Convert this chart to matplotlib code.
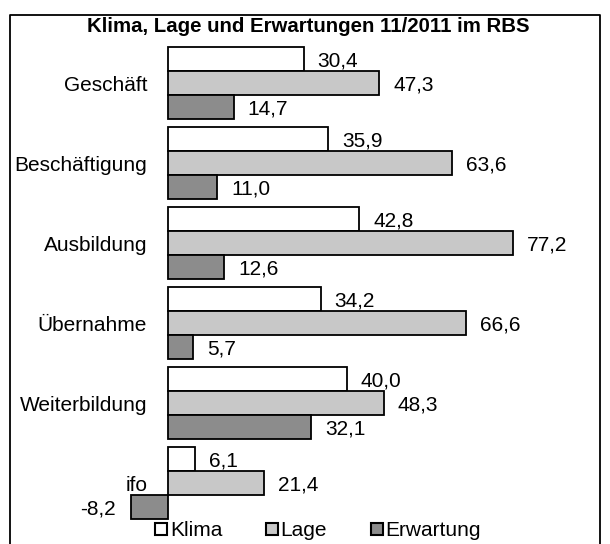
import numpy as np
import matplotlib.pyplot as plt
from matplotlib.lines import Line2D

plt.rcParams['font.family'] = ['Liberation Sans', 'DejaVu Sans']

categories = ["Geschäft", "Beschäftigung", "Ausbildung", "Übernahme", "Weiterbildung", "ifo"]
klima = [30.4, 35.9, 42.8, 34.2, 40.0, 6.1]
lage = [47.3, 63.6, 77.2, 66.6, 48.3, 21.4]
erwartung = [14.7, 11.0, 12.6, 5.7, 32.1, -8.2]
series_names = ["Klima", "Lage", "Erwartung"]
colors = ["#ffffff", "#c8c8c8", "#8c8c8c"]

W, H = 610, 544
FS = 15
fig = plt.figure(figsize=(W / 100, H / 100), dpi=100)

# axes placed in pixel terms: zero at x=168, 4.47 px per unit
ax_l, ax_r = 60, 590
ax = fig.add_axes([ax_l / W, 1 - 525 / H, (ax_r - ax_l) / W, (525 - 40) / H])
ax.set_xlim(-(168 - ax_l) / 4.47, (ax_r - 168) / 4.47)
ax.set_ylim((525 - 83) / 80, (40 - 83) / 80)

y = np.arange(len(categories))
h = 0.3
for k, (vals, col) in enumerate(zip([klima, lage, erwartung], colors)):
    pos = y + (k - 1) * h
    ax.barh(pos, vals, height=h, color=col, edgecolor="black", linewidth=1.3)
    for p, v in zip(pos, vals):
        txt = f"{v:.1f}".replace(".", ",")
        if v >= 0:
            ax.text(v + 3.1, p + 0.03, txt, ha="left", va="center", fontsize=FS)
        else:
            ax.text(v - 3.4, p + 0.03, txt, ha="right", va="center", fontsize=FS)

# category labels right-aligned left of the zero line
for yi, name in zip(y, categories):
    ax.annotate(name, (0, yi + 0.03), xytext=(-15, 0), textcoords="offset points",
                ha="right", va="center", fontsize=FS)

ax.set_yticks([])
ax.set_xticks([])
for s in ax.spines.values():
    s.set_visible(False)

fig.text(308 / W, 1 - 27 / H, "Klima, Lage und Erwartungen 11/2011 im RBS",
         ha="center", va="center", fontsize=FS - 0.3, fontweight="bold")

# frame around chart (bottom edge outside the picture)
fx0, fx1, fy0 = 10 / W, 600 / W, 1 - 15 / H
fig.add_artist(Line2D([fx0, fx0, fx1, fx1], [-0.1, fy0, fy0, -0.1],
                      transform=fig.transFigure, color="black", linewidth=1.3))

handles = [Line2D([], [], marker="s", linestyle="none", markersize=8,
                  markerfacecolor=c, markeredgecolor="black", markeredgewidth=1.5)
           for c in colors]
fig.legend(handles, series_names, loc="center", bbox_to_anchor=(317 / W, 1 - 531 / H),
           ncol=3, frameon=False, fontsize=FS, handletextpad=0.0,
           columnspacing=2.0, handlelength=0.8, borderaxespad=0)

fig.savefig("out.png", dpi=100)
